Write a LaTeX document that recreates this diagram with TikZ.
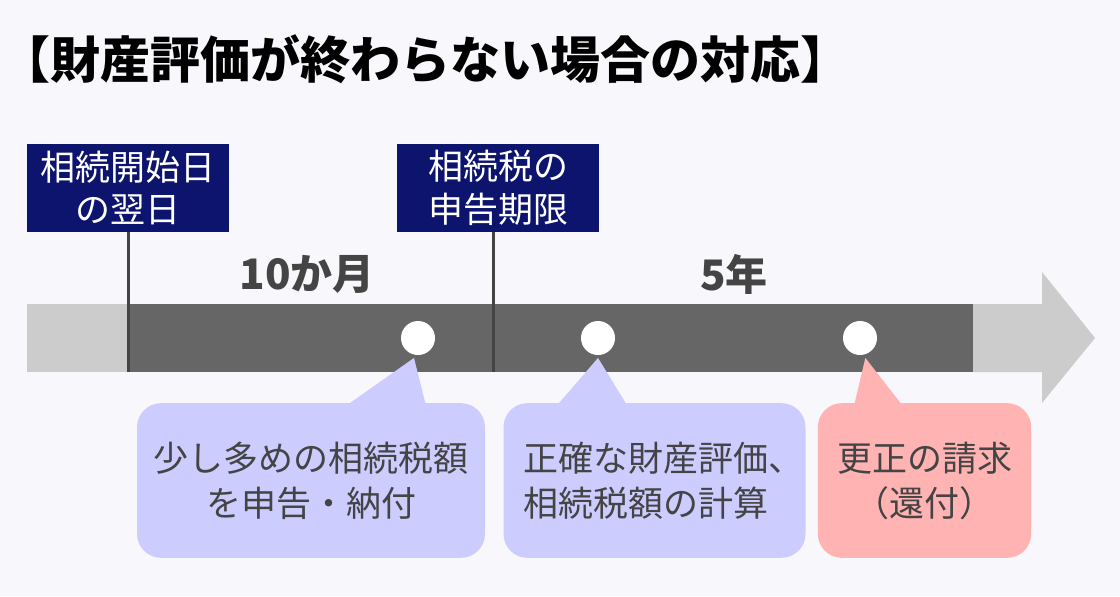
\documentclass[tikz,border=0pt]{standalone}
\usepackage{fontspec}
\setmainfont{Noto Sans CJK JP}
\usetikzlibrary{positioning}
\definecolor{bg}{HTML}{F7F7FC}
\definecolor{navy}{HTML}{0D146E}
\definecolor{darkbar}{HTML}{666666}
\definecolor{lightbar}{HTML}{CCCCCC}
\definecolor{txt}{HTML}{444444}
\definecolor{bubble}{HTML}{CCCCFF}
\definecolor{pinkbubble}{HTML}{FFB3B3}
\tikzset{
  datebox/.style={fill=navy, text=white, align=center, inner sep=0pt,
    minimum width=151.5pt, minimum height=66pt,
    font=\fontsize{26.25}{32}\selectfont},
  period/.style={text=txt, font=\fontsize{31.5}{36}\selectfont\bfseries},
  dot/.style={circle, fill=white, minimum size=25.5pt, inner sep=0pt},
  callout/.style={rounded corners=18pt, text=txt, inner sep=0pt,
    minimum height=116pt, font=\fontsize{26.25}{33.75}\selectfont},
  tick/.style={draw=txt, line width=2.25pt}
}
\begin{document}
\begin{tikzpicture}[x=0.75pt,y=-0.75pt]
\fill[bg] (0,0) rectangle (1120,596);
\useasboundingbox (0,0) rectangle (1120,596);

\node[anchor=west, inner sep=0pt, text=black, font=\fontsize{37.5}{40}\selectfont\bfseries] (title) at (0,59) {【財産評価が終わらない場合の対応】};

% bar
\fill[lightbar] (27,304) rectangle (128,372);
\fill[darkbar] (128,304) rectangle (973,372);
\fill[lightbar] (973,304) -- (1042,304) -- (1042,272) -- (1095,338)
  -- (1042,403) -- (1042,372) -- (973,372) -- cycle;
\coordinate (barbot) at (0,372);

\node[datebox] (start) at (128,188) {相続開始日\\の翌日};
\node[datebox] (limit) at (498,188) {相続税の\\申告期限};
\draw[tick] (start.south) -- (start.south |- barbot);
\draw[tick] ([xshift=-3.75pt]limit.south) -- ([xshift=-3.75pt]limit.south |- barbot);

\node[period] (tenmonths) at (307,274) {10か月};
\node[period] (fiveyears) at (734,274) {5年};

\node[dot] (d1) at (418,338) {};
\node[dot] (d2) at (598,338) {};
\node[dot] (d3) at (860,338) {};

% callouts
\fill[bubble] ([xshift=-3pt,yshift=-2pt]d1.south) -- (340,410) -- (427,410) -- cycle;
\node[callout, fill=bubble, minimum width=261pt, align=center] (c1) at (311,480.5)
  {少し多めの相続税額\\を申告・納付};
\fill[bubble] ([yshift=-2pt]d2.south) -- (553,410) -- (630,410) -- cycle;
\node[callout, fill=bubble, text width=196pt, inner xsep=15.25pt, align=left] (c2) at (654.5,480.5)
  {正確な財産評価、\\相続税額の計算};
\fill[pinkbubble] ([xshift=4pt,yshift=-2pt]d3.south) -- (853,410) -- (906,410) -- cycle;
\node[callout, fill=pinkbubble, minimum width=160pt, align=center] (c3) at (924.5,480.5)
  {更正の請求\\（還付）};
\end{tikzpicture}
\end{document}
